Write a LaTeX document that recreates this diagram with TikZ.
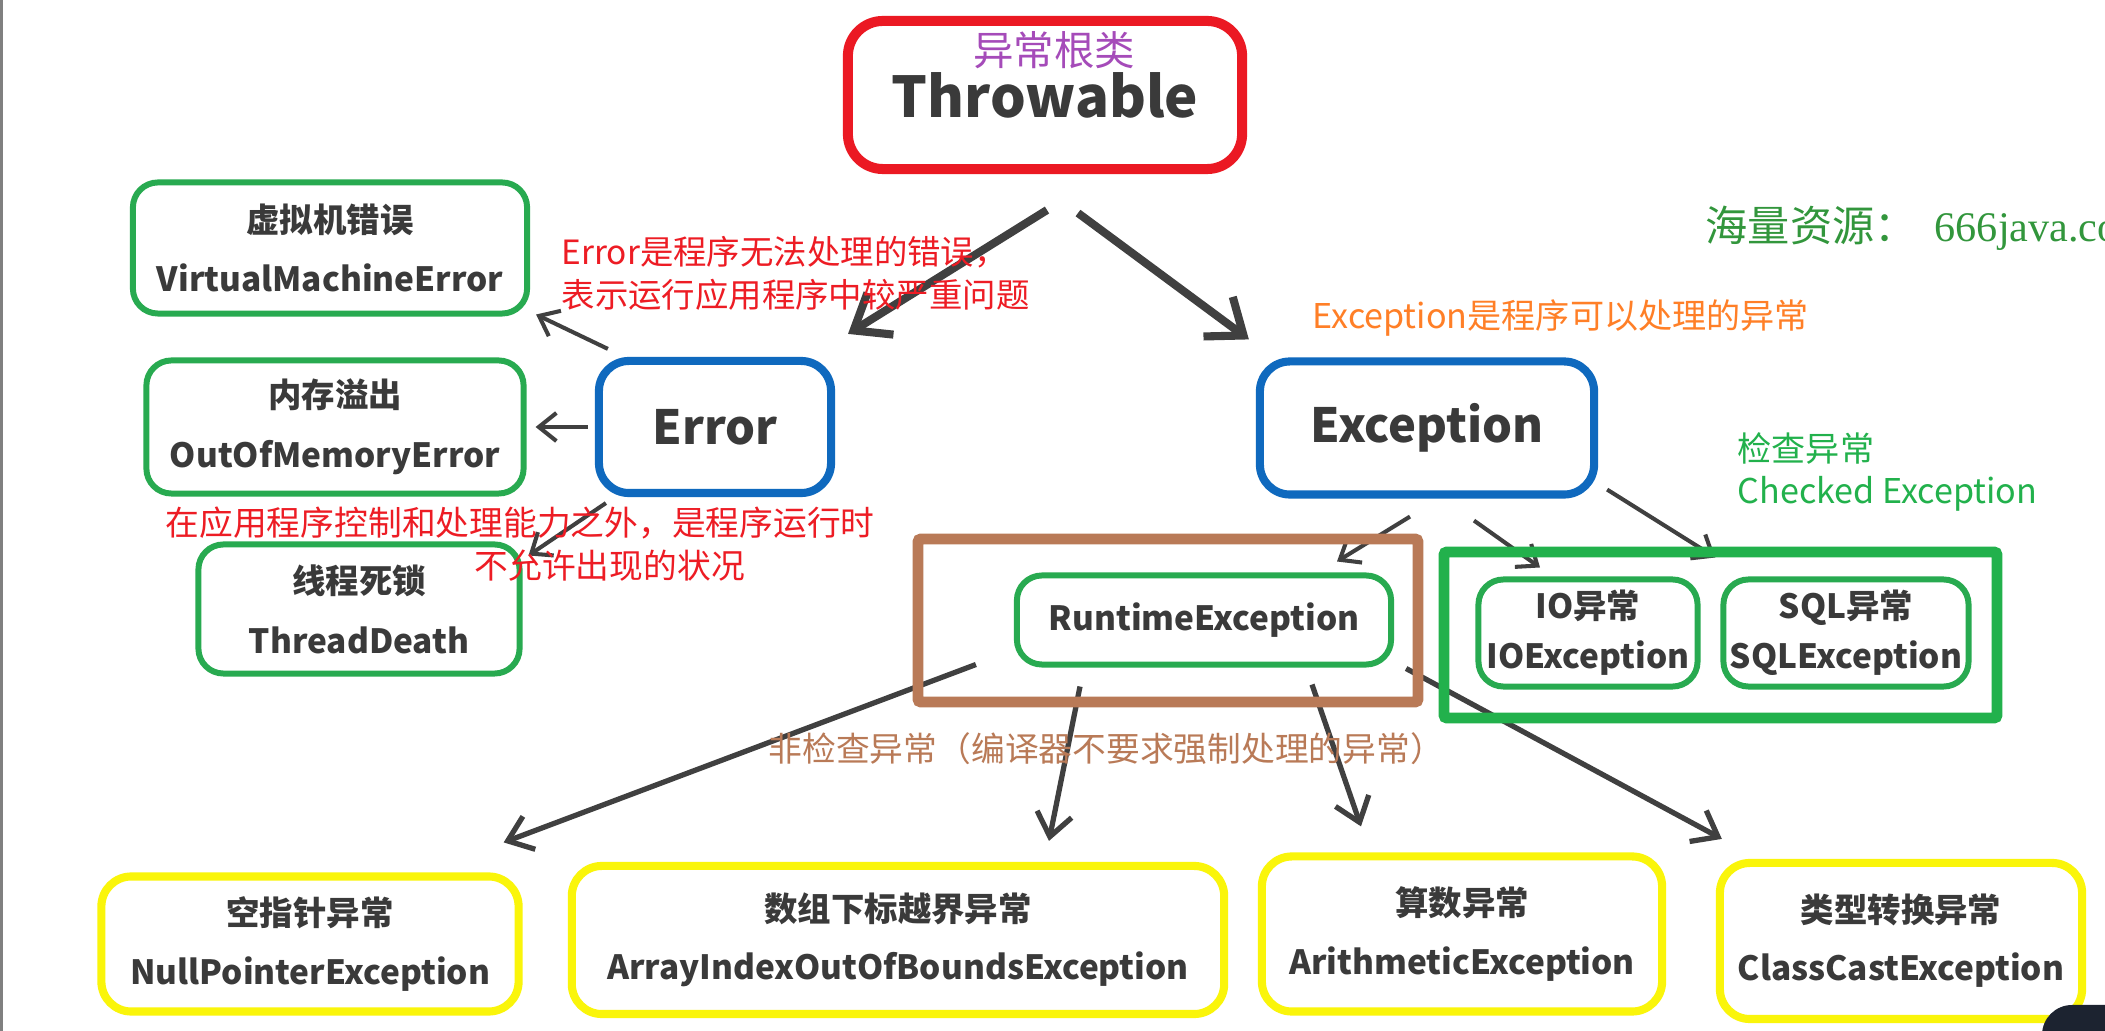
\documentclass[tikz,border=0pt]{standalone}
\usepackage{fontspec}
\usetikzlibrary{arrows.meta,calc}
\newfontfamily\cjk{Noto Sans CJK SC}
\newfontfamily\wmserif{Liberation Serif}
\definecolor{thrred}{RGB}{235,25,35}
\definecolor{boxblue}{RGB}{15,105,190}
\definecolor{boxgreen}{RGB}{40,170,80}
\definecolor{boxyellow}{RGB}{250,245,10}
\definecolor{boxtext}{RGB}{58,58,58}
\definecolor{arrgray}{RGB}{64,64,64}
\definecolor{notered}{RGB}{237,28,36}
\definecolor{noteorange}{RGB}{255,127,39}
\definecolor{notegreen}{RGB}{34,177,76}
\definecolor{notebrown}{RGB}{185,122,87}
\definecolor{notepurple}{RGB}{165,75,185}
\definecolor{wmgreen}{RGB}{50,150,60}
\definecolor{blobdark}{RGB}{28,35,48}

\begin{document}
\begin{tikzpicture}[x=0.01cm, y=-0.01cm,
		thrbox/.style={draw=thrred, line width=2.85pt, rounded corners=0.35cm, text=boxtext,
			font=\cjk\bfseries\fontsize{16}{19}\selectfont, inner sep=0pt},
		bluebox/.style={draw=boxblue, line width=2.3pt, rounded corners=0.3cm, text=boxtext,
			font=\cjk\bfseries\fontsize{13.4}{16}\selectfont, inner sep=0pt},
		greenbox/.style={draw=boxgreen, line width=1.7pt, rounded corners=0.25cm, text=boxtext,
			font=\cjk\bfseries\fontsize{9.5}{17}\selectfont, align=center, inner sep=0pt},
		ybox/.style={draw=boxyellow, line width=2.3pt, rounded corners=0.3cm, text=boxtext,
			font=\cjk\bfseries\fontsize{9.5}{16.5}\selectfont, align=center, inner sep=0pt},
		groupbox/.style={line width=3.1pt, rounded corners=0.03cm},
		note/.style={font=\cjk\fontsize{9.6}{12.2}\selectfont, inner sep=0pt, align=left},
		bigarr/.style={draw=arrgray, line width=2.3pt, -{Straight Barb[length=9pt,width=14pt]}},
		arr/.style={draw=arrgray, line width=1.5pt, -{Straight Barb[length=6.5pt,width=10pt]}},
		smallarr/.style={draw=arrgray, line width=1.15pt, -{Straight Barb[length=5pt,width=8pt]}}]
		\clip (0,0) rectangle (2105,1031);
		\fill[white] (0,0) rectangle (2105,1031);
		\fill[gray] (0,0) rectangle (3,1031);

		\node[thrbox, minimum width=3.94cm, minimum height=1.48cm] (thr) at (1045,95) {Throwable};
		\node[bluebox, minimum width=2.32cm, minimum height=1.32cm] (err) at (715,427) {Error};
		\node[bluebox, minimum width=3.34cm, minimum height=1.33cm] (exc) at (1427,428) {Exception};

		\foreach \nm/\cx/\cy/\w/\h/\zh/\en in {
			vme/330/248/3.94/1.31/虚拟机错误/VirtualMachineError,
			oom/335/427/3.77/1.33/内存溢出/OutOfMemoryError,
			thd/359/609/3.21/1.29/线程死锁/ThreadDeath
		} {
			\node[greenbox, minimum width=\w cm, minimum height=\h cm] (\nm) at (\cx,\cy) {\zh\\\en};
		}
		\node[greenbox, minimum width=3.74cm, minimum height=0.89cm] (rte) at (1204,620) {RuntimeException};
		\node[greenbox, font=\cjk\bfseries\fontsize{9.5}{14.2}\selectfont,
			minimum width=2.19cm, minimum height=1.07cm] (ioe) at (1588,633) {IO异常\\IOException};
		\node[greenbox, font=\cjk\bfseries\fontsize{9.5}{14.2}\selectfont,
			minimum width=2.45cm, minimum height=1.07cm] (sqe) at (1846,633) {SQL异常\\SQLException};

		\foreach \nm/\cx/\cy/\w/\h/\zh/\en in {
			npe/310/944/4.17/1.35/空指针异常/NullPointerException,
			aie/898/940/6.52/1.48/数组下标越界异常/ArrayIndexOutOfBoundsException,
			ari/1462/934/4.00/1.55/算数异常/ArithmeticException,
			cce/1901/941/3.62/1.56/类型转换异常/ClassCastException
		} {
			\node[ybox, minimum width=\w cm, minimum height=\h cm] (\nm) at (\cx,\cy) {\zh\\\en};
		}

		\draw[bigarr] ($(thr.south)+(2,36)$) -- ($(err.north)+(133,-23)$);
		\draw[bigarr] ($(thr.south)+(33,39)$) -- ($(exc.north west)+(-7,-18)$);

		\draw[smallarr] ($(err.north west)+(13,-8)$) -- ($(vme.south east)+(6,-2)$);
		\draw[smallarr] ($(err.west)+(-7,0)$) -- ($(oom.east)+(9,0)$);
		\draw[smallarr] ($(err.south west)+(11,6)$) -- ($(thd.north east)+(6,14)$);

		\draw[smallarr] ($(exc.south)+(-17,18)$) -- ($(rte.north)+(133,-11)$);
		\draw[smallarr] ($(exc.south)+(47,22)$) -- ($(ioe.north)+(-48,-9)$);
		\draw[smallarr] ($(exc.south east)+(9,-9)$) -- ($(sqe.north west)+(-5,-19)$);

		\draw[arr] ($(rte.south west)+(-38,-3)$) -- ($(npe.north east)+(-19,-30)$);
		\draw[arr] ($(rte.south)+(-124,19)$) -- ($(aie.north)+(151,-21)$);
		\draw[arr] ($(rte.south)+(108,17)$) -- ($(ari.north)+(-101,-26)$);
		\draw[arr] ($(rte.south east)+(12,1)$) -- ($(cce.north west)+(6,-20)$);

		\draw[groupbox, draw=notebrown] (918,539) rectangle (1418,702);
		\draw[groupbox, draw=notegreen] (1444,552) rectangle (1997,718);

		\node[note, text=notepurple, font=\cjk\fontsize{11.5}{14}\selectfont] (rootlbl) at (1054,50) {异常根类};
		\node[note, text=notered, anchor=west, font=\cjk\fontsize{9.5}{12.2}\selectfont] (errnote) at (561,273) {Error是程序无法处理的错误，\\表示运行应用程序中较严重问题};
		\node[note, text=notered, anchor=west] (runnote) at (165,523) {在应用程序控制和处理能力之外，是程序运行时};
		\node[note, text=notered, anchor=west] (runnote2) at (474,566) {不允许出现的状况};
		\node[note, text=noteorange, anchor=west, font=\cjk\fontsize{9.7}{12.2}\selectfont] (excnote) at (1312,318) {Exception是程序可以处理的异常};
		\node[note, text=notegreen, anchor=west, font=\cjk\fontsize{9.7}{12.2}\selectfont] (chknote) at (1737,472) {检查异常\\Checked Exception};
		\node[note, text=notebrown, anchor=west] (unchknote) at (768,749) {非检查异常（编译器不要求强制处理的异常）};
		\node[note, text=wmgreen, anchor=west, font=\cjk\fontsize{12}{14}\selectfont] (wmark) at (1705,228) {海量资源：\hspace{0.18cm}{\wmserif 666java.com}};

		\fill[blobdark, rounded corners=0.3cm] (2042,1005) rectangle (2200,1100);
	\end{tikzpicture}
\end{document}
